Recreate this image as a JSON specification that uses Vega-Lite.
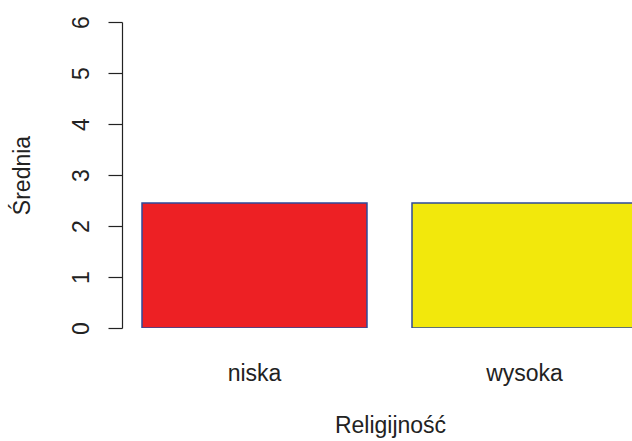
{
  "$schema": "https://vega.github.io/schema/vega-lite/v6.json",
  "autosize": {"type": "none"},
  "width": 510,
  "height": 306,
  "padding": {"left": 122, "top": 22, "right": 0, "bottom": 113},
  "background": "white",
  "config": {
    "view": {"stroke": null},
    "font": "Liberation Sans",
    "axis": {"labelFont": "Liberation Sans", "titleFont": "Liberation Sans", "labelColor": "#222222", "titleColor": "#222222", "titleFontWeight": "normal", "labelFontSize": 23, "titleFontSize": 23, "grid": false}
  },
  "data": {"values": [
    {"Religijnosc": "niska", "Srednia": 2.45},
    {"Religijnosc": "wysoka", "Srednia": 2.45}
  ]},
  "mark": {"type": "bar", "clip": true, "stroke": "#2E4A9A", "strokeWidth": 1.5},
  "encoding": {
    "x": {
      "field": "Religijnosc", "type": "nominal", "sort": null,
      "scale": {"range": [20, 515], "paddingInner": 0.1667, "paddingOuter": 0},
      "axis": {"title": "Religijność", "labelAngle": 0, "domain": false, "ticks": false, "labelPadding": 34, "titlePadding": 29, "titleX": 268}
    },
    "y": {
      "field": "Srednia", "type": "quantitative",
      "scale": {"domain": [0, 6], "nice": false, "zero": true},
      "axis": {"title": "Średnia", "values": [0, 1, 2, 3, 4, 5, 6], "labelAngle": 270, "tickSize": 14, "tickColor": "#222222", "domainColor": "#222222", "tickWidth": 1.2, "domainWidth": 1.2, "labelPadding": 15, "titlePadding": 36, "labelBaseline": "bottom", "labelAlign": "center"}
    },
    "color": {
      "field": "Religijnosc", "type": "nominal",
      "scale": {"domain": ["niska", "wysoka"], "range": ["#ED2024", "#F2E80C"]},
      "legend": null
    }
  }
}
